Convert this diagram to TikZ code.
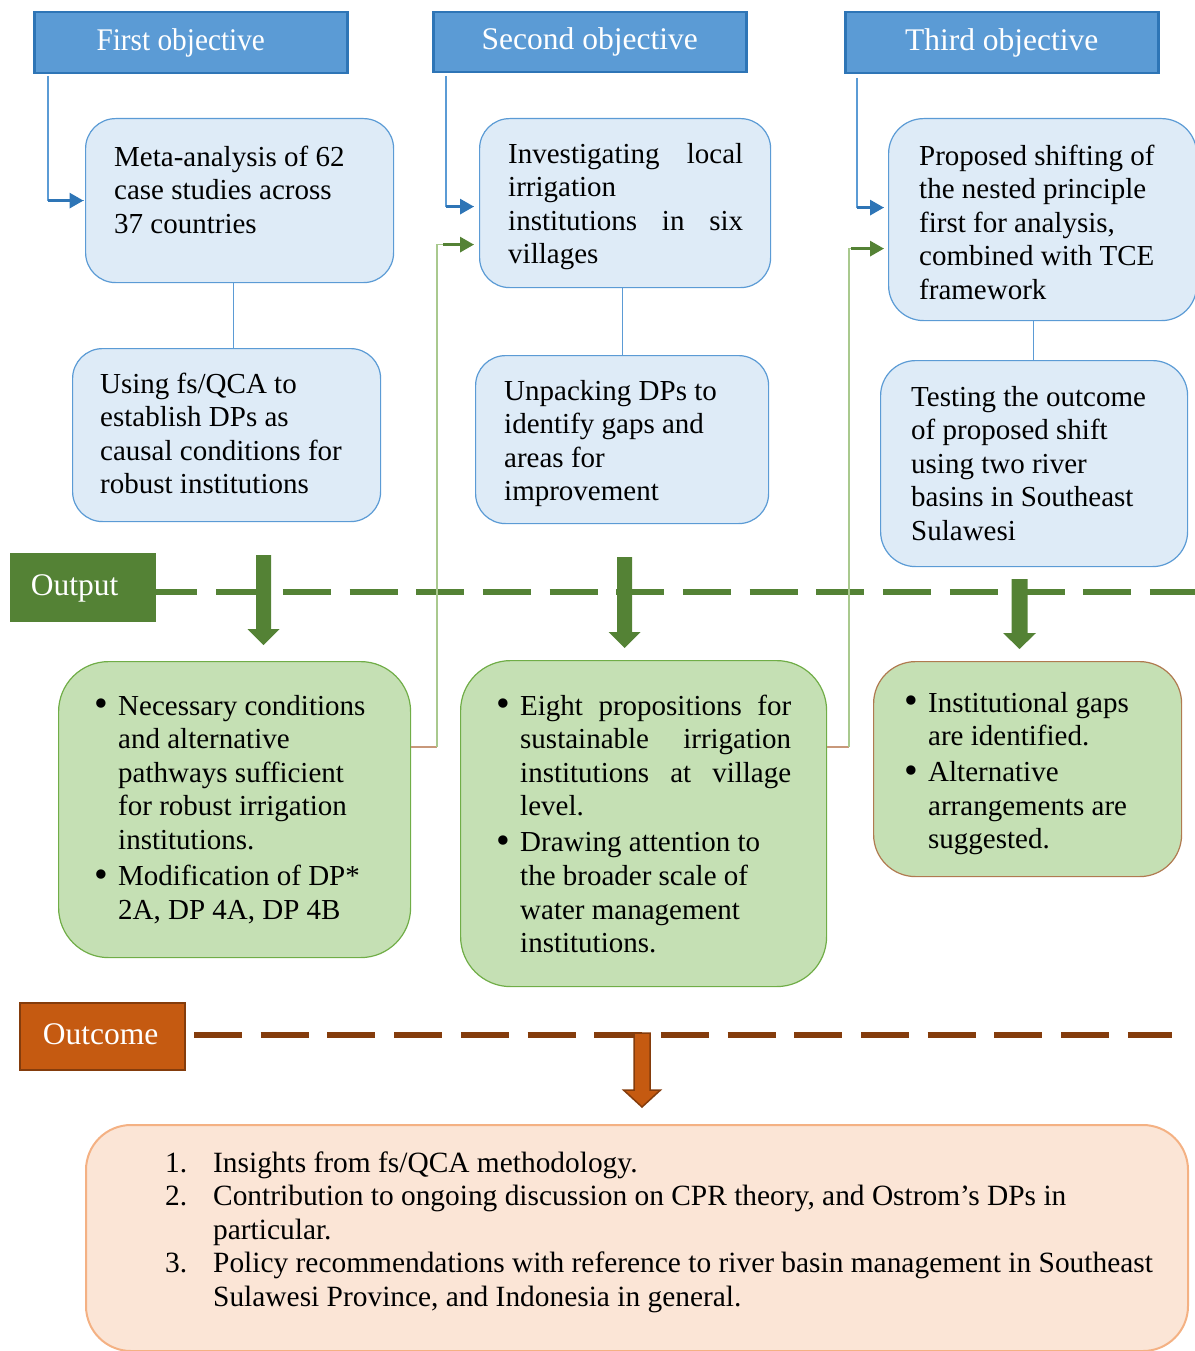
\documentclass[tikz,border=0pt]{standalone}
\usepackage{fontspec}
\usepackage{graphicx}
\setmainfont{Liberation Serif}
\usetikzlibrary{arrows.meta,calc}

\definecolor{objfill}{HTML}{5B9BD5}
\definecolor{objline}{HTML}{2E75B6}
\definecolor{stepfill}{HTML}{DEEBF7}
\definecolor{stepline}{HTML}{5B9BD5}
\definecolor{outgreen}{HTML}{548235}
\definecolor{resfill}{HTML}{C5E0B4}
\definecolor{resline}{HTML}{70AD47}
\definecolor{resbrown}{HTML}{B07A50}
\definecolor{loopgreen}{HTML}{A9C98E}
\definecolor{loopbrown}{HTML}{C8987A}
\definecolor{outcfill}{HTML}{C55A11}
\definecolor{outcline}{HTML}{843C0C}
\definecolor{finalfill}{HTML}{FBE5D6}
\definecolor{finalline}{HTML}{F4B183}

\newcommand\bodyfont{\fontsize{29pt}{33.6pt}\selectfont}
\newcommand\finalfont{\fontsize{29.4pt}{33.6pt}\selectfont}
\newcommand\headfont{\fontsize{31.5pt}{36pt}\selectfont}
\newcommand\jline[2]{\makebox[#1][s]{#2}}
\newcommand\bul{\llap{\raisebox{-1.5pt}{\scalebox{1.35}{\textbullet}}\hspace{10pt}}}
\newcommand\num[1]{\llap{\makebox[48pt][l]{#1}}}

% multi-line text nodes are placed by the baseline of their last line
\tikzset{
  objbox/.style={draw=objline, line width=2.5pt, fill=objfill, anchor=north west,
    inner sep=0pt, text=white, font=\headfont, text height=22pt, text depth=7pt},
  stepbox/.style={draw=stepline, line width=1.2pt, fill=stepfill, anchor=north west,
    inner sep=0pt},
  resbox/.style={draw=resline, line width=1.2pt, fill=resfill, anchor=north west,
    inner sep=0pt},
  txt/.style={anchor=base west, align=left, inner sep=0pt, font=\bodyfont},
  bluethin/.style={draw=stepline, line width=1.2pt},
  bluearrow/.style={draw=objline, fill=objline, line width=3pt,
    -{Triangle[length=14pt,width=15pt]}},
  greenarrow/.style={draw=outgreen, fill=outgreen, line width=3pt,
    -{Triangle[length=14pt,width=15pt]}},
  greenthin/.style={draw=loopgreen, line width=1.2pt},
  brownthin/.style={draw=loopbrown, line width=1.2pt},
}

% downward block arrow: style, centre x, top y, tip y, shaft half width, head half width, head length
\newcommand\blockdown[7]{%
  \path[#1] (#2-#5,#3) -- (#2+#5,#3) -- (#2+#5,#4-#7) -- (#2+#6,#4-#7) -- (#2,#4)
    -- (#2-#6,#4-#7) -- (#2-#5,#4-#7) -- cycle;}

\begin{document}
\begin{tikzpicture}[x=1pt,y=-1pt]
\useasboundingbox (0,0) rectangle (1194,1351);

% objectives
\node[objbox, minimum width=313pt, minimum height=61pt] (obj1) at (33,11) {\scalebox{0.93}[1]{First objective}\hspace*{20pt}};
\node[objbox, minimum width=313pt, minimum height=60pt] (obj2) at (432,11) {Second objective};
\node[objbox, minimum width=313pt, minimum height=61pt] (obj3) at (844,11) {Third objective};

% method boxes
\node[stepbox, minimum width=308pt, minimum height=164pt, rounded corners=30pt] (box1) at (85,118) {};
\node[stepbox, minimum width=291pt, minimum height=169pt, rounded corners=30pt] (box2) at (479,118) {};
\node[stepbox, minimum width=308pt, minimum height=202pt, rounded corners=35pt] (box3) at (888,118) {};
\node[stepbox, minimum width=308pt, minimum height=173pt, rounded corners=30pt] (box1b) at (72,348) {};
\node[stepbox, minimum width=293pt, minimum height=168pt, rounded corners=30pt] (box2b) at (475,355) {};
\node[stepbox, minimum width=307pt, minimum height=206pt, rounded corners=35pt] (box3b) at (880,360) {};

\node[txt] (box1t) at (114,233.2) {Meta-analysis of 62\\case studies across\\37 countries};
\node[txt] (box2t) at (508,263.8) {\jline{235pt}{Investigating local}\\irrigation\\\jline{235pt}{institutions in six}\\villages};
\node[txt] (box3t) at (919,299.4) {Proposed shifting of\\the nested principle\\first for analysis,\\combined with TCE\\framework};
\node[txt] (box1bt) at (100,493.8) {Using fs/QCA to\\establish DPs as\\causal conditions for\\robust institutions};
\node[txt] (box2bt) at (504,500.8) {Unpacking DPs to\\identify gaps and\\areas for\\improvement};
\node[txt] (box3bt) at (911,540.4) {Testing the outcome\\of proposed shift\\using two river\\basins in Southeast\\Sulawesi};

% links between method boxes
\coordinate (v1) at ($(box1.south)+(-6,0)$);
\coordinate (v2) at ($(box2.south)+(-2.5,0)$);
\coordinate (v3) at ($(box3.south)+(-9,0)$);
\draw[bluethin] (v1) -- (v1 |- box1b.north);
\draw[bluethin] (v2) -- (v2 |- box2b.north);
\draw[bluethin] (v3) -- (v3 |- box3b.north);

% objective connectors
\coordinate (a1) at (48,76);
\coordinate (a1e) at ($(box1.west)+(-1.5,0)$);
\coordinate (a2) at (446,76);
\coordinate (a2e) at ($(box2.west)+(-5,3.5)$);
\coordinate (a3) at (857,78);
\coordinate (a3e) at ($(box3.west)+(-4,-12)$);
\draw[bluethin] (a1) |- (a1e);
\draw[bluethin] (a2) |- (a2e);
\draw[bluethin] (a3) |- (a3e);
\draw[bluearrow] (a1 |- a1e) -- (a1e);
\draw[bluearrow] (a2 |- a2e) -- (a2e);
\draw[bluearrow] (a3 |- a3e) -- (a3e);

% output band
\node[fill=outgreen, anchor=north west, inner sep=0pt, minimum width=146pt, minimum height=69pt,
  text=white, font=\headfont, text height=22pt, text depth=7pt] (outlbl) at (10,553) {Output\hspace*{17pt}};
\draw[outgreen, line width=6pt, dash pattern=on 48pt off 18.7pt, dash phase=7pt]
  ($(outlbl.east)+(0,4.5)$) -- ++(1045,0);

% results
\node[resbox, minimum width=352pt, minimum height=296pt, rounded corners=50pt] (g1) at (58,661) {};
\node[resbox, minimum width=366pt, minimum height=326pt, rounded corners=50pt] (g2) at (460,660) {};
\node[resbox, draw=resbrown, minimum width=308pt, minimum height=215pt, rounded corners=42pt] (g3) at (873,661) {};

\node[txt] (g1t) at (118,919.1) {\bul Necessary conditions\\and alternative\\pathways sufficient\\for robust irrigation\\institutions.\\[2.5pt]\bul Modification of DP*\\2A, DP 4A, DP 4B};
\node[txt] (g2t) at (520,952.7) {\bul\jline{271pt}{Eight propositions for}\\\jline{271pt}{sustainable irrigation}\\\jline{271pt}{institutions at village}\\level.\\[2.5pt]\bul Drawing attention to\\the broader scale of\\water management\\institutions.};
\node[txt] (g3t) at (928,848.9) {\bul Institutional gaps\\are identified.\\[2.5pt]\bul Alternative\\arrangements are\\suggested.};

\blockdown{fill=outgreen}{263.5}{555}{645}{7.5}{16}{16}
\blockdown{fill=outgreen}{624.5}{557}{648}{7.5}{16}{16}
\blockdown{fill=outgreen}{1019.5}{579}{649}{8}{16.5}{16}

% feedback from results to the next objective
\coordinate (f1) at (437,747);
\coordinate (f1e) at ($(box2.west)+(-5,41.5)$);
\coordinate (f2) at (849,747);
\coordinate (f2e) at ($(box3.west)+(-4,29)$);
\draw[brownthin] (f1 -| g1.east) -- (f1);
\draw[brownthin] (f2 -| g2.east) -- (f2);
\draw[greenthin] (f1) |- (f1e);
\draw[greenthin] (f2) |- (f2e);
\draw[greenarrow] ($(f1 |- f1e)+(6,0)$) -- (f1e);
\draw[greenarrow] ($(f2 |- f2e)+(2,0)$) -- (f2e);

% outcome band
\node[draw=outcline, line width=2pt, fill=outcfill, anchor=north west, inner sep=0pt,
  minimum width=165pt, minimum height=67pt, text=white, font=\headfont,
  text height=22pt, text depth=7pt] (outclbl) at (19,1002) {Outcome\hspace*{4pt}};
\draw[outcline, line width=6pt, dash pattern=on 48pt off 18.7pt]
  ($(outclbl.east)+(8,-1.5)$) -- ++(978,0);
\blockdown{fill=outcfill, draw=outcline, line width=1.5pt}{642}{1033}{1107}{8}{18.5}{17}

\node[draw=finalline, line width=2pt, fill=finalfill, anchor=north west, inner sep=0pt,
  minimum width=1102pt, minimum height=226pt, rounded corners=45pt] (final) at (85,1124) {};
\node[txt, font=\finalfont] (finalt) at (213,1306.4) {\num{1.}Insights from fs/QCA methodology.\\
\num{2.}Contribution to ongoing discussion on CPR theory, and Ostrom's DPs in\\
particular.\\
\num{3.}Policy recommendations with reference to river basin management in Southeast\\
Sulawesi Province, and Indonesia in general.};
\end{tikzpicture}
\end{document}
